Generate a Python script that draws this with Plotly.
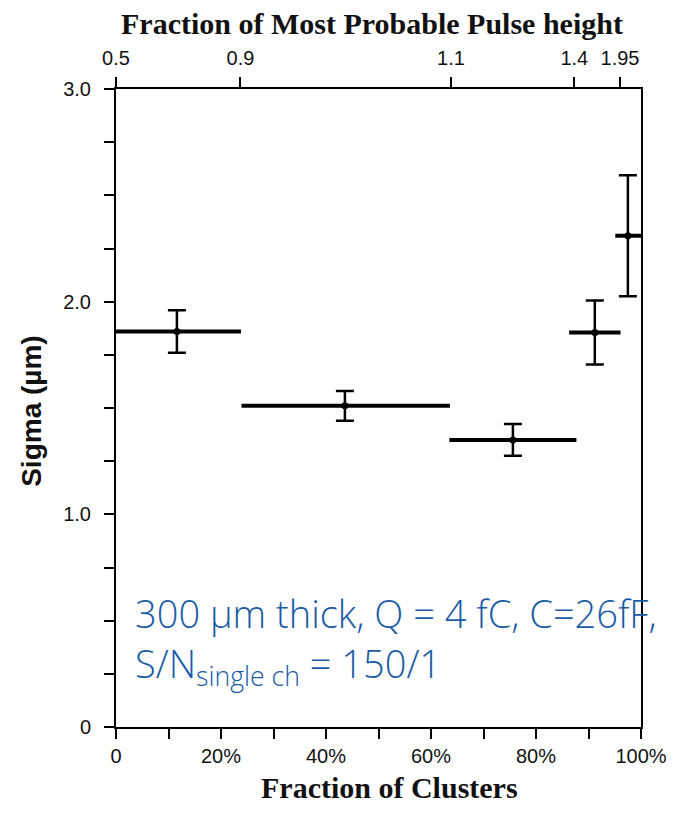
import plotly.graph_objects as go

# --- data ---
cluster_frac_center = [11.6, 43.6, 75.6, 91.2, 97.5]      # % of clusters (bin centre)
cluster_frac_lo = [0.0, 23.9, 63.5, 86.3, 95.1]           # bin lower edge (%)
cluster_frac_hi = [23.8, 63.6, 87.7, 96.1, 100.0]         # bin upper edge (%)
sigma_um = [1.86, 1.51, 1.35, 1.855, 2.31]
sigma_err = [0.10, 0.07, 0.075, 0.15, 0.285]

bottom_tickvals = [0, 10, 20, 30, 40, 50, 60, 70, 80, 90, 100]
bottom_ticktext = ["0", "", "20%", "", "40%", "", "60%", "", "80%", "", "100%"]
top_tickvals = [0, 23.7, 63.8, 87.3, 96.0]
top_ticktext = ["0.5", "0.9", "1.1", "1.4", "1.95"]
y_tickvals = [0, 0.25, 0.5, 0.75, 1.0, 1.25, 1.5, 1.75, 2.0, 2.25, 2.5, 2.75, 3.0]
y_ticktext = ["0", "", "", "", "1.0", "", "", "", "2.0", "", "", "", "3.0"]

err_minus_x = [c - lo for c, lo in zip(cluster_frac_center, cluster_frac_lo)]
err_plus_x = [hi - c for c, hi in zip(cluster_frac_center, cluster_frac_hi)]

fig = go.Figure()
fig.add_trace(go.Scatter(
    x=cluster_frac_center, y=sigma_um, mode="markers",
    marker=dict(color="black", size=7),
    error_x=dict(type="data", symmetric=False, array=err_plus_x, arrayminus=err_minus_x,
                 color="black", thickness=4, width=0),
    error_y=dict(type="data", array=sigma_err, color="black", thickness=2.5, width=9),
    showlegend=False, hoverinfo="skip",
))
# invisible trace for the top axis
fig.add_trace(go.Scatter(x=[0, 100], y=[0, 0], xaxis="x2", mode="markers",
                         marker=dict(opacity=0), showlegend=False, hoverinfo="skip"))

tickfont = dict(family="Liberation Sans", size=20, color="#111")
fig.update_layout(
    width=671, height=806,
    margin=dict(l=108, r=34, t=81, b=87),
    paper_bgcolor="white", plot_bgcolor="white",
    xaxis=dict(range=[0, 100], tickvals=bottom_tickvals, ticktext=bottom_ticktext,
               ticks="outside", ticklen=10, tickwidth=2, tickcolor="black",
               showline=True, linecolor="black", linewidth=2, mirror=False,
               showgrid=False, zeroline=False, tickfont=tickfont, ticklabelstandoff=0),
    xaxis2=dict(range=[0, 100], overlaying="x", side="top", tickvals=top_tickvals,
                ticktext=top_ticktext, ticks="outside", ticklen=10, tickwidth=2,
                tickcolor="black", showline=True, linecolor="black", linewidth=2,
                showgrid=False, zeroline=False, tickfont=tickfont, ticklabelstandoff=4),
    yaxis=dict(range=[0, 3], tickvals=y_tickvals, ticktext=y_ticktext,
               ticks="outside", ticklen=10, tickwidth=2, tickcolor="black",
               showline=True, linecolor="black", linewidth=2, mirror=True,
               showgrid=False, zeroline=False, tickfont=tickfont, ticklabelstandoff=9),
)

titlefont = dict(family="Liberation Serif", size=30, color="#111")
fig.add_annotation(text="<b>Fraction of Clusters</b>", xref="paper", yref="paper",
                   x=0.52, y=-0.0956, xanchor="center", yanchor="middle",
                   showarrow=False, font=titlefont)
fig.add_annotation(text="<b>Fraction of Most Probable Pulse height</b>", xref="paper", yref="paper",
                   x=0.488, y=1.103, xanchor="center", yanchor="middle",
                   showarrow=False, font=titlefont)
fig.add_annotation(text="<b>Sigma (µm)</b>", xref="paper", yref="paper",
                   x=-0.16, y=0.494, xanchor="center", yanchor="middle", textangle=-90,
                   showarrow=False, font=dict(family="Liberation Sans", size=28, color="#111"))

blue = "#1A5BA6"
fig.add_annotation(text="300 µm thick, Q = 4 fC, C=26fF,", xref="paper", yref="paper",
                   x=0.032, y=0.179, xanchor="left", yanchor="middle", showarrow=False,
                   font=dict(family="Open Sans", size=38, color=blue, weight=300))
fig.add_annotation(text="S/N<sub>single ch</sub> = 150/1", xref="paper", yref="paper",
                   x=0.032, y=0.096, xanchor="left", yanchor="middle", showarrow=False,
                   font=dict(family="Open Sans", size=38, color=blue, weight=300))

fig.write_html("out.html")
